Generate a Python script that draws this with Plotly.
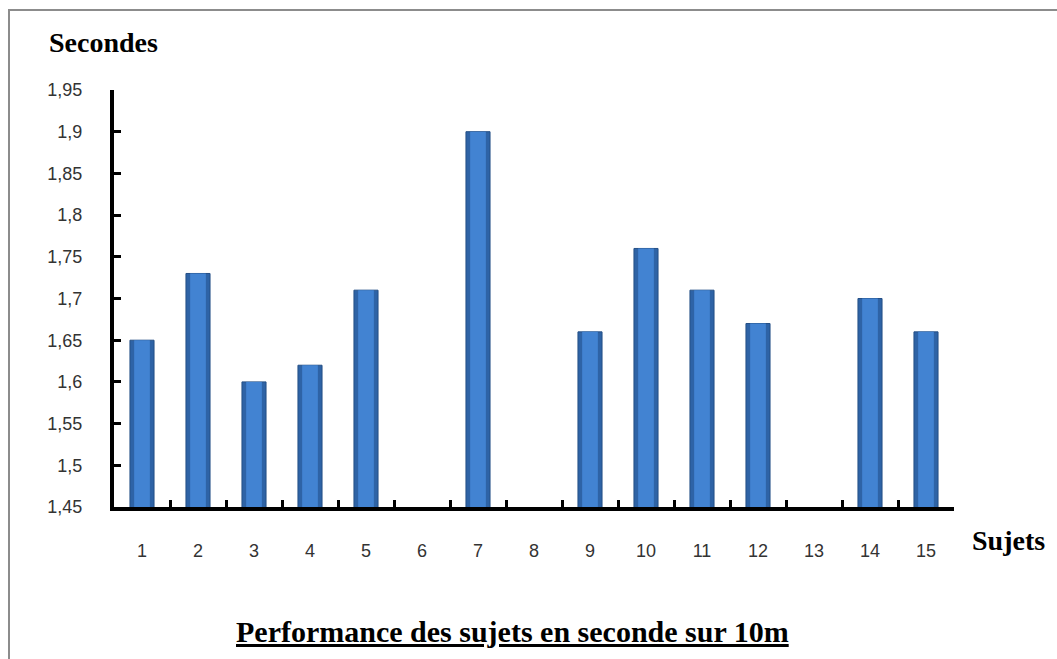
import plotly.graph_objects as go

# Subjects and their 10 m times in seconds (subjects 6, 8 and 13 have no time)
sujets = [str(i) for i in range(1, 16)]
secondes = [1.65, 1.73, 1.60, 1.62, 1.71, None, 1.90, None, 1.66, 1.76, 1.71, 1.67, None, 1.70, 1.66]

y_tick_vals = [1.45, 1.50, 1.55, 1.60, 1.65, 1.70, 1.75, 1.80, 1.85, 1.90, 1.95]
y_tick_text = ["1,45", "1,5", "1,55", "1,6", "1,65", "1,7", "1,75", "1,8", "1,85", "1,9", "1,95"]

W, H = 1057, 659
L, R, T, B = 114, 103, 90, 152
pw, ph = W - L - R, H - T - B


def px_x(p):
    return (p - L) / pw


def px_y(p):
    return (H - B - p) / ph


serif = "Liberation Serif, Times New Roman, serif"

fig = go.Figure()
# darker outer bar with a lighter core for a shaded, rounded look
fig.add_trace(go.Bar(
    x=sujets, y=secondes, width=0.43,
    marker=dict(color="#2e63a6", line=dict(color="#244f86", width=1)),
    hoverinfo="x+y",
))
fig.add_trace(go.Bar(
    x=sujets, y=secondes, width=0.28,
    marker=dict(color="#4283d2", line=dict(width=0)),
    hoverinfo="skip",
))

fig.update_layout(
    width=W, height=H,
    margin=dict(l=L, r=R, t=T, b=B),
    paper_bgcolor="white", plot_bgcolor="white",
    barmode="overlay",
    showlegend=False,
    font=dict(family="Liberation Sans, Arial, sans-serif", size=18, color="#333333"),
    xaxis=dict(
        type="category",
        showgrid=False,
        showline=True, linecolor="black", linewidth=4,
        ticks="inside", tickson="boundaries", ticklen=7, tickwidth=3, tickcolor="black",
        ticklabelstandoff=24,
        tickfont=dict(size=18, color="#333333"),
        fixedrange=True,
    ),
    yaxis=dict(
        range=[1.45, 1.95],
        tickvals=y_tick_vals, ticktext=y_tick_text,
        showgrid=False, zeroline=False,
        showline=True, linecolor="black", linewidth=4,
        ticks="inside", ticklen=7, tickwidth=3, tickcolor="black",
        ticklabelstandoff=24,
        tickfont=dict(size=18, color="#333333"),
        fixedrange=True,
    ),
    shapes=[
        dict(type="rect", xref="paper", yref="paper",
             x0=px_x(9), x1=px_x(1070), y0=px_y(675), y1=px_y(10),
             line=dict(color="#8c8c8c", width=2), fillcolor="rgba(0,0,0,0)", layer="below"),
    ],
    annotations=[
        dict(text="<b>Secondes</b>", xref="paper", yref="paper",
             x=px_x(47), y=px_y(42), xanchor="left", yanchor="middle", showarrow=False,
             font=dict(family=serif, size=28, color="black")),
        dict(text="<b>Sujets</b>", xref="paper", yref="paper",
             x=px_x(970), y=px_y(540), xanchor="left", yanchor="middle", showarrow=False,
             font=dict(family=serif, size=28, color="black")),
        dict(text="<u><b>Performance des sujets en seconde sur 10m</b></u>", xref="paper", yref="paper",
             x=px_x(512), y=px_y(631), xanchor="center", yanchor="middle", showarrow=False,
             font=dict(family=serif, size=30, color="black")),
    ],
)

fig.write_html("out.html")
